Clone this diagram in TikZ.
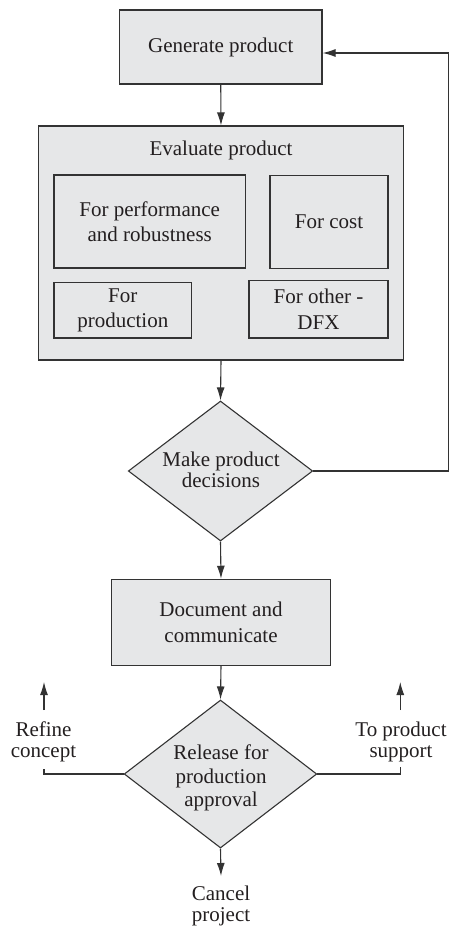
\documentclass[tikz,border=0pt]{standalone}
\usepackage{fontspec}
\setmainfont{Liberation Serif}
\usetikzlibrary{arrows.meta,shapes.geometric}
\definecolor{lc}{HTML}{333333}
\definecolor{fc}{HTML}{E6E7E8}
\definecolor{tc}{HTML}{231F20}
\newcommand\mydfont[1]{\fontsize{21bp}{#1}\selectfont}
\tikzset{
  box/.style={draw=lc, fill=fc, line width=1.1bp, inner sep=0pt, align=center, font=\mydfont{25.5bp}, text=tc},
  dia/.style={draw=lc, fill=fc, line width=1.1bp, inner sep=0pt, diamond},
  lbl/.style={inner sep=0pt, align=center, font=\mydfont{21bp}, text=tc},
  conn/.style={draw=lc, line width=1.1bp},
  arr/.style={conn, -{Latex[length=13bp,width=8bp]}}
}
\begin{document}
\begin{tikzpicture}[x=1bp,y=-1bp]
\useasboundingbox (0,0) rectangle (451,926);
% nodes
\node[box, minimum width=202.5bp, minimum height=74bp] (gen) at (220.75,47) {Generate product};
\node[box, minimum width=365bp, minimum height=234bp] (eval) at (221,243) {};
\node[lbl, anchor=base] (evt) at (221,155) {Evaluate product};
\node[box, minimum width=191.5bp, minimum height=93bp] (perf) at (149.75,221.5) {For performance\\and robustness};
\node[box, minimum width=118bp, minimum height=93bp] (cost) at (329,222) {For cost};
\node[box, minimum width=137.5bp, minimum height=55.5bp, font=\mydfont{24.3bp}] (prod) at (122.75,310.25) {For\\production};
\node[box, minimum width=139bp, minimum height=57.5bp] (other) at (318.5,309.25) {For other -\\DFX};
\node[dia, minimum width=184.4bp, minimum height=140bp] (make) at (220.5,471) {};
\node[lbl, font=\mydfont{21.3bp}] (maket) at (221,469.5) {Make product\\decisions};
\node[box, minimum width=219bp, minimum height=86bp] (doc) at (221,622.3) {Document and\\communicate};
\node[dia, minimum width=192.6bp, minimum height=148bp] (rel) at (220.5,774) {};
\node[lbl, font=\mydfont{23.3bp}] (relt) at (221,778) {Release for\\production\\approval};
\node[lbl] (refine) at (43.5,741.7) {Refine\\concept};
\node[lbl] (sup) at (401,741.7) {To product\\support};
\node[lbl] (cancel) at (221,905.5) {Cancel\\project};
% coordinates
\coordinate (fb) at (448.5,53);
\coordinate (rl) at (44,769);
\coordinate (rb) at (44,710);
\coordinate (rt) at (44,682);
\coordinate (sl) at (400.3,767);
\coordinate (sb) at (400.3,710);
\coordinate (st) at (400.3,682);
\coordinate (ce) at (221,876);
% connectors
\draw[arr] (gen.south) -- (eval.north);
\draw[arr] (eval.south) -- (make.north);
\draw[arr] (make.south) -- (doc.north);
\draw[arr] (doc.south) -- (rel.north);
\draw[arr] (make.east) -| (fb) -- (gen.east |- fb);
\draw[conn] (rel.west) -| (rl);
\draw[arr] (rb) -- (rt);
\draw[conn] (rel.east) -| (sl);
\draw[arr] (sb) -- (st);
\draw[arr] (rel.south) -- (ce);
\end{tikzpicture}
\end{document}
